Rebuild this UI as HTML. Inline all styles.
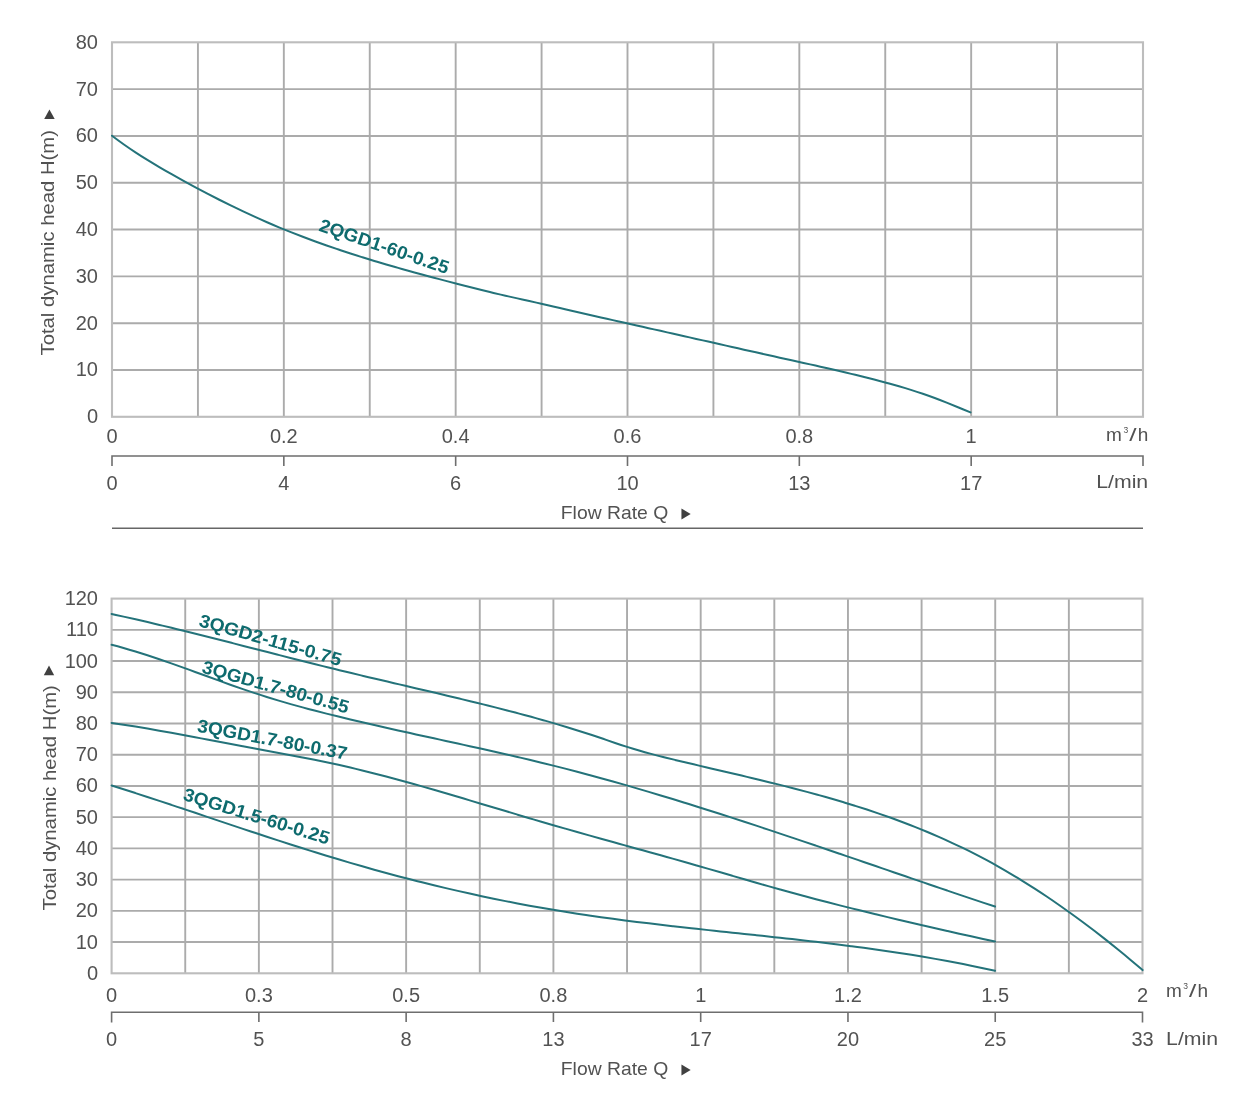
<!DOCTYPE html><html><head><meta charset="utf-8"><title>Pump performance curves</title>
<style>html,body{margin:0;padding:0;background:#fff;width:1235px;height:1111px;overflow:hidden}svg{display:block}text{font-family:'Liberation Sans', Arial, sans-serif}</style></head><body>
<svg width="1235" height="1111" viewBox="0 0 1235 1111">
<rect width="1235" height="1111" fill="#fff"/>
<path d="M197.92 42.30V416.80M283.83 42.30V416.80M369.75 42.30V416.80M455.67 42.30V416.80M541.58 42.30V416.80M627.50 42.30V416.80M713.42 42.30V416.80M799.33 42.30V416.80M885.25 42.30V416.80M971.17 42.30V416.80M1057.08 42.30V416.80M112.00 89.11H1143.00M112.00 135.93H1143.00M112.00 182.74H1143.00M112.00 229.55H1143.00M112.00 276.36H1143.00M112.00 323.18H1143.00M112.00 369.99H1143.00" stroke="#ababab" stroke-width="1.9" fill="none"/>
<rect x="112.00" y="42.30" width="1031.00" height="374.50" stroke="#bdbdbd" stroke-width="2.1" fill="none"/>
<text x="98.00" y="48.75" font-size="20" text-anchor="end" fill="#525252">80</text>
<text x="98.00" y="95.56" font-size="20" text-anchor="end" fill="#525252">70</text>
<text x="98.00" y="142.38" font-size="20" text-anchor="end" fill="#525252">60</text>
<text x="98.00" y="189.19" font-size="20" text-anchor="end" fill="#525252">50</text>
<text x="98.00" y="236.00" font-size="20" text-anchor="end" fill="#525252">40</text>
<text x="98.00" y="282.81" font-size="20" text-anchor="end" fill="#525252">30</text>
<text x="98.00" y="329.62" font-size="20" text-anchor="end" fill="#525252">20</text>
<text x="98.00" y="376.44" font-size="20" text-anchor="end" fill="#525252">10</text>
<text x="98.00" y="423.25" font-size="20" text-anchor="end" fill="#525252">0</text>
<text x="112.00" y="442.80" font-size="20" text-anchor="middle" fill="#525252">0</text>
<text x="283.83" y="442.80" font-size="20" text-anchor="middle" fill="#525252">0.2</text>
<text x="455.67" y="442.80" font-size="20" text-anchor="middle" fill="#525252">0.4</text>
<text x="627.50" y="442.80" font-size="20" text-anchor="middle" fill="#525252">0.6</text>
<text x="799.33" y="442.80" font-size="20" text-anchor="middle" fill="#525252">0.8</text>
<text x="971.17" y="442.80" font-size="20" text-anchor="middle" fill="#525252">1</text>
<text x="1106.10" y="441.00" font-size="19" fill="#525252">m</text>
<text x="1123.50" y="432.70" font-size="8.5" fill="#525252">3</text>
<text x="1129.20" y="441.00" font-size="19" fill="#525252" textLength="7.3" lengthAdjust="spacingAndGlyphs">/</text>
<text x="1137.70" y="441.00" font-size="19" fill="#525252">h</text>
<path d="M112.00 466V456H1143.00V466M283.83 456V466M455.67 456V466M627.50 456V466M799.33 456V466M971.17 456V466" stroke="#6e6e6e" stroke-width="1.6" fill="none"/>
<text x="112.00" y="489.70" font-size="20" text-anchor="middle" fill="#525252">0</text>
<text x="283.83" y="489.70" font-size="20" text-anchor="middle" fill="#525252">4</text>
<text x="455.67" y="489.70" font-size="20" text-anchor="middle" fill="#525252">6</text>
<text x="627.50" y="489.70" font-size="20" text-anchor="middle" fill="#525252">10</text>
<text x="799.33" y="489.70" font-size="20" text-anchor="middle" fill="#525252">13</text>
<text x="971.17" y="489.70" font-size="20" text-anchor="middle" fill="#525252">17</text>
<text x="1096.20" y="487.70" font-size="19" fill="#525252" textLength="52.0" lengthAdjust="spacingAndGlyphs">L/min</text>
<text x="560.8" y="519.20" font-size="19" fill="#525252" textLength="107.4" lengthAdjust="spacingAndGlyphs">Flow Rate Q</text>
<polygon points="681.45,508.50 681.45,519.60 690.70,514.10" fill="#404040"/>
<path d="M112 528.2H1143" stroke="#666" stroke-width="1.5"/>
<text transform="translate(54.40 355.50) rotate(-90)" font-size="19" fill="#525252" textLength="225.5" lengthAdjust="spacingAndGlyphs">Total dynamic head H(m)</text>
<polygon points="49.45,109.60 44.20,118.90 54.70,118.90" fill="#404040"/>
<path d="M112.00,135.70 C115.97,138.73 119.95,141.64 123.92,144.45 C127.90,147.25 131.87,149.96 135.85,152.57 C139.82,155.19 143.80,157.72 147.77,160.18 C151.75,162.64 155.72,165.02 159.69,167.36 C163.67,169.69 167.64,171.97 171.62,174.21 C175.59,176.45 179.57,178.65 183.54,180.83 C187.52,183.01 191.49,185.17 195.47,187.30 C199.44,189.43 203.41,191.54 207.39,193.61 C211.36,195.69 215.34,197.73 219.31,199.74 C223.29,201.76 227.26,203.73 231.24,205.68 C235.21,207.62 239.19,209.53 243.16,211.41 C247.13,213.28 251.11,215.12 255.08,216.92 C259.06,218.73 263.03,220.49 267.01,222.22 C270.98,223.95 274.96,225.65 278.93,227.30 C282.91,228.96 286.88,230.57 290.85,232.15 C294.83,233.73 298.80,235.27 302.78,236.78 C306.75,238.29 310.73,239.76 314.70,241.21 C318.68,242.65 322.65,244.07 326.62,245.46 C330.60,246.84 334.57,248.20 338.55,249.54 C342.52,250.87 346.50,252.18 350.47,253.47 C354.45,254.75 358.42,256.02 362.40,257.26 C366.37,258.50 370.34,259.72 374.32,260.92 C378.29,262.12 382.27,263.30 386.24,264.47 C390.22,265.63 394.19,266.78 398.17,267.91 C402.14,269.04 406.12,270.16 410.09,271.26 C414.06,272.36 418.04,273.45 422.01,274.53 C425.99,275.61 429.96,276.67 433.94,277.73 C437.91,278.79 441.89,279.84 445.86,280.88 C449.84,281.92 453.81,282.95 457.78,283.98 C461.76,285.00 465.73,286.02 469.71,287.03 C473.68,288.04 477.66,289.04 481.63,290.02 C485.61,291.01 489.58,291.97 493.56,292.92 C497.53,293.87 501.50,294.80 505.48,295.70 C509.45,296.61 513.43,297.49 517.40,298.37 C521.38,299.25 525.35,300.13 529.33,301.03 C533.30,301.92 537.28,302.83 541.25,303.74 C545.22,304.65 549.20,305.57 553.17,306.49 C557.15,307.41 561.12,308.33 565.10,309.24 C569.07,310.16 573.05,311.08 577.02,311.99 C581.00,312.90 584.97,313.81 588.94,314.71 C592.92,315.62 596.89,316.52 600.87,317.42 C604.84,318.32 608.82,319.22 612.79,320.12 C616.77,321.02 620.74,321.91 624.72,322.81 C628.69,323.70 632.66,324.60 636.64,325.49 C640.61,326.38 644.59,327.28 648.56,328.17 C652.54,329.06 656.51,329.95 660.49,330.85 C664.46,331.74 668.44,332.63 672.41,333.53 C676.38,334.42 680.36,335.32 684.33,336.22 C688.31,337.11 692.28,338.01 696.26,338.91 C700.23,339.80 704.21,340.70 708.18,341.60 C712.16,342.49 716.13,343.39 720.10,344.29 C724.08,345.18 728.05,346.08 732.03,346.97 C736.00,347.87 739.98,348.76 743.95,349.66 C747.93,350.55 751.90,351.44 755.88,352.33 C759.85,353.22 763.82,354.11 767.80,355.00 C771.77,355.88 775.75,356.77 779.72,357.65 C783.70,358.53 787.67,359.41 791.65,360.29 C795.62,361.17 799.59,362.05 803.57,362.93 C807.54,363.81 811.52,364.70 815.49,365.59 C819.47,366.48 823.44,367.37 827.42,368.28 C831.39,369.19 835.37,370.10 839.34,371.03 C843.31,371.96 847.29,372.90 851.26,373.85 C855.24,374.81 859.21,375.78 863.19,376.77 C867.16,377.76 871.14,378.76 875.11,379.79 C879.09,380.82 883.06,381.87 887.03,382.95 C891.01,384.03 894.98,385.13 898.96,386.27 C902.93,387.42 906.91,388.60 910.88,389.84 C914.86,391.08 918.83,392.37 922.81,393.73 C926.78,395.09 930.75,396.52 934.73,398.02 C938.70,399.52 942.68,401.08 946.65,402.67 C950.63,404.26 954.60,405.89 958.58,407.52 C962.55,409.16 966.53,410.80 970.50,412.42" stroke="#24737a" stroke-width="2.0" fill="none" stroke-linecap="round"/>
<text transform="translate(318.05 230.44) rotate(18.78)" font-size="18.3" font-weight="bold" fill="#0e6b6e" textLength="135.6" lengthAdjust="spacingAndGlyphs">2QGD1-60-0.25</text>
<path d="M185.24 598.60V973.30M258.87 598.60V973.30M332.51 598.60V973.30M406.14 598.60V973.30M479.78 598.60V973.30M553.41 598.60V973.30M627.05 598.60V973.30M700.69 598.60V973.30M774.32 598.60V973.30M847.96 598.60V973.30M921.59 598.60V973.30M995.23 598.60V973.30M1068.86 598.60V973.30M111.60 629.83H1142.50M111.60 661.05H1142.50M111.60 692.27H1142.50M111.60 723.50H1142.50M111.60 754.73H1142.50M111.60 785.95H1142.50M111.60 817.17H1142.50M111.60 848.40H1142.50M111.60 879.62H1142.50M111.60 910.85H1142.50M111.60 942.07H1142.50" stroke="#ababab" stroke-width="1.9" fill="none"/>
<rect x="111.60" y="598.60" width="1030.90" height="374.70" stroke="#bdbdbd" stroke-width="2.1" fill="none"/>
<text x="98.00" y="605.05" font-size="20" text-anchor="end" fill="#525252">120</text>
<text x="98.00" y="636.28" font-size="20" text-anchor="end" fill="#525252">110</text>
<text x="98.00" y="667.50" font-size="20" text-anchor="end" fill="#525252">100</text>
<text x="98.00" y="698.73" font-size="20" text-anchor="end" fill="#525252">90</text>
<text x="98.00" y="729.95" font-size="20" text-anchor="end" fill="#525252">80</text>
<text x="98.00" y="761.18" font-size="20" text-anchor="end" fill="#525252">70</text>
<text x="98.00" y="792.40" font-size="20" text-anchor="end" fill="#525252">60</text>
<text x="98.00" y="823.62" font-size="20" text-anchor="end" fill="#525252">50</text>
<text x="98.00" y="854.85" font-size="20" text-anchor="end" fill="#525252">40</text>
<text x="98.00" y="886.08" font-size="20" text-anchor="end" fill="#525252">30</text>
<text x="98.00" y="917.30" font-size="20" text-anchor="end" fill="#525252">20</text>
<text x="98.00" y="948.52" font-size="20" text-anchor="end" fill="#525252">10</text>
<text x="98.00" y="979.75" font-size="20" text-anchor="end" fill="#525252">0</text>
<text x="111.60" y="1002.20" font-size="20" text-anchor="middle" fill="#525252">0</text>
<text x="258.87" y="1002.20" font-size="20" text-anchor="middle" fill="#525252">0.3</text>
<text x="406.14" y="1002.20" font-size="20" text-anchor="middle" fill="#525252">0.5</text>
<text x="553.41" y="1002.20" font-size="20" text-anchor="middle" fill="#525252">0.8</text>
<text x="700.69" y="1002.20" font-size="20" text-anchor="middle" fill="#525252">1</text>
<text x="847.96" y="1002.20" font-size="20" text-anchor="middle" fill="#525252">1.2</text>
<text x="995.23" y="1002.20" font-size="20" text-anchor="middle" fill="#525252">1.5</text>
<text x="1142.50" y="1002.20" font-size="20" text-anchor="middle" fill="#525252">2</text>
<text x="1165.90" y="997.30" font-size="19" fill="#525252">m</text>
<text x="1183.30" y="989.00" font-size="8.5" fill="#525252">3</text>
<text x="1189.00" y="997.30" font-size="19" fill="#525252" textLength="7.3" lengthAdjust="spacingAndGlyphs">/</text>
<text x="1197.50" y="997.30" font-size="19" fill="#525252">h</text>
<path d="M111.60 1022.5V1012.2H1142.50V1022.5M258.87 1012.2V1022M406.14 1012.2V1022M553.41 1012.2V1022M700.69 1012.2V1022M847.96 1012.2V1022M995.23 1012.2V1022" stroke="#6e6e6e" stroke-width="1.6" fill="none"/>
<text x="111.60" y="1046.10" font-size="20" text-anchor="middle" fill="#525252">0</text>
<text x="258.87" y="1046.10" font-size="20" text-anchor="middle" fill="#525252">5</text>
<text x="406.14" y="1046.10" font-size="20" text-anchor="middle" fill="#525252">8</text>
<text x="553.41" y="1046.10" font-size="20" text-anchor="middle" fill="#525252">13</text>
<text x="700.69" y="1046.10" font-size="20" text-anchor="middle" fill="#525252">17</text>
<text x="847.96" y="1046.10" font-size="20" text-anchor="middle" fill="#525252">20</text>
<text x="995.23" y="1046.10" font-size="20" text-anchor="middle" fill="#525252">25</text>
<text x="1142.50" y="1046.10" font-size="20" text-anchor="middle" fill="#525252">33</text>
<text x="1166.10" y="1044.60" font-size="19" fill="#525252" textLength="52.0" lengthAdjust="spacingAndGlyphs">L/min</text>
<text x="560.8" y="1075.30" font-size="19" fill="#525252" textLength="107.4" lengthAdjust="spacingAndGlyphs">Flow Rate Q</text>
<polygon points="681.45,1064.50 681.45,1075.60 690.70,1070.10" fill="#404040"/>
<text transform="translate(55.80 910.50) rotate(-90)" font-size="19" fill="#525252" textLength="225.3" lengthAdjust="spacingAndGlyphs">Total dynamic head H(m)</text>
<polygon points="49.00,665.60 43.80,675.30 54.20,675.30" fill="#404040"/>
<path d="M111.60,614.00 C115.60,614.86 119.59,615.74 123.59,616.62 C127.58,617.51 131.58,618.41 135.58,619.32 C139.57,620.24 143.57,621.16 147.57,622.09 C151.56,623.03 155.56,623.97 159.55,624.93 C163.55,625.88 167.55,626.84 171.54,627.81 C175.54,628.78 179.53,629.76 183.53,630.75 C187.53,631.73 191.52,632.73 195.52,633.73 C199.51,634.73 203.51,635.73 207.51,636.74 C211.50,637.75 215.50,638.76 219.50,639.78 C223.49,640.80 227.49,641.82 231.48,642.84 C235.48,643.86 239.48,644.89 243.47,645.91 C247.47,646.94 251.46,647.97 255.46,648.99 C259.46,650.02 263.45,651.05 267.45,652.07 C271.44,653.10 275.44,654.13 279.44,655.15 C283.43,656.17 287.43,657.19 291.43,658.21 C295.42,659.22 299.42,660.24 303.41,661.25 C307.41,662.26 311.41,663.26 315.40,664.26 C319.40,665.26 323.39,666.25 327.39,667.23 C331.39,668.22 335.38,669.20 339.38,670.17 C343.38,671.14 347.37,672.10 351.37,673.06 C355.36,674.02 359.36,674.98 363.36,675.93 C367.35,676.88 371.35,677.82 375.34,678.76 C379.34,679.70 383.34,680.64 387.33,681.58 C391.33,682.52 395.32,683.46 399.32,684.39 C403.32,685.33 407.31,686.26 411.31,687.20 C415.31,688.13 419.30,689.07 423.30,690.01 C427.29,690.95 431.29,691.89 435.29,692.83 C439.28,693.78 443.28,694.72 447.27,695.68 C451.27,696.63 455.27,697.58 459.26,698.55 C463.26,699.51 467.26,700.48 471.25,701.45 C475.25,702.43 479.24,703.41 483.24,704.40 C487.24,705.39 491.23,706.39 495.23,707.40 C499.22,708.41 503.22,709.44 507.22,710.47 C511.21,711.50 515.21,712.55 519.20,713.61 C523.20,714.67 527.20,715.75 531.19,716.84 C535.19,717.94 539.19,719.05 543.18,720.18 C547.18,721.31 551.17,722.46 555.17,723.63 C559.17,724.80 563.16,725.99 567.16,727.20 C571.15,728.42 575.15,729.66 579.15,730.92 C583.14,732.18 587.14,733.47 591.13,734.79 C595.13,736.10 599.13,737.45 603.12,738.82 C607.12,740.19 611.12,741.58 615.11,742.94 C619.11,744.31 623.10,745.65 627.10,746.92 C631.10,748.19 635.09,749.40 639.09,750.55 C643.08,751.71 647.08,752.81 651.08,753.87 C655.07,754.94 659.07,755.96 663.07,756.96 C667.06,757.96 671.06,758.94 675.05,759.90 C679.05,760.86 683.05,761.82 687.04,762.77 C691.04,763.72 695.03,764.66 699.03,765.60 C703.03,766.54 707.02,767.48 711.02,768.41 C715.01,769.35 719.01,770.28 723.01,771.22 C727.00,772.15 731.00,773.09 735.00,774.03 C738.99,774.97 742.99,775.92 746.98,776.87 C750.98,777.81 754.98,778.77 758.97,779.74 C762.97,780.70 766.96,781.67 770.96,782.66 C774.96,783.64 778.95,784.63 782.95,785.64 C786.94,786.65 790.94,787.67 794.94,788.71 C798.93,789.74 802.93,790.80 806.93,791.87 C810.92,792.94 814.92,794.02 818.91,795.13 C822.91,796.24 826.91,797.37 830.90,798.52 C834.90,799.67 838.89,800.85 842.89,802.05 C846.89,803.25 850.88,804.47 854.88,805.72 C858.88,806.97 862.87,808.25 866.87,809.56 C870.86,810.87 874.86,812.21 878.86,813.58 C882.85,814.96 886.85,816.36 890.84,817.80 C894.84,819.24 898.84,820.71 902.83,822.22 C906.83,823.73 910.82,825.28 914.82,826.87 C918.82,828.46 922.81,830.08 926.81,831.75 C930.81,833.42 934.80,835.13 938.80,836.89 C942.79,838.64 946.79,840.44 950.79,842.29 C954.78,844.13 958.78,846.03 962.77,847.97 C966.77,849.91 970.77,851.90 974.76,853.94 C978.76,855.99 982.76,858.08 986.75,860.23 C990.75,862.37 994.74,864.58 998.74,866.83 C1002.74,869.09 1006.73,871.40 1010.73,873.77 C1014.72,876.14 1018.72,878.56 1022.72,881.03 C1026.71,883.51 1030.71,886.03 1034.70,888.61 C1038.70,891.19 1042.70,893.82 1046.69,896.50 C1050.69,899.19 1054.69,901.92 1058.68,904.70 C1062.68,907.49 1066.67,910.32 1070.67,913.20 C1074.67,916.08 1078.66,919.01 1082.66,921.99 C1086.65,924.96 1090.65,927.99 1094.65,931.06 C1098.64,934.13 1102.64,937.25 1106.63,940.41 C1110.63,943.58 1114.63,946.79 1118.62,950.04 C1122.62,953.29 1126.62,956.59 1130.61,959.93 C1134.61,963.27 1138.60,966.66 1142.60,970.08" stroke="#24737a" stroke-width="2.0" fill="none" stroke-linecap="round"/>
<path d="M111.60,644.79 C115.58,645.80 119.56,646.86 123.54,647.98 C127.52,649.09 131.50,650.26 135.48,651.47 C139.45,652.68 143.43,653.93 147.41,655.22 C151.39,656.51 155.37,657.84 159.35,659.19 C163.33,660.55 167.31,661.93 171.29,663.33 C175.27,664.74 179.25,666.16 183.23,667.60 C187.21,669.03 191.19,670.48 195.16,671.94 C199.14,673.39 203.12,674.85 207.10,676.31 C211.08,677.77 215.06,679.22 219.04,680.66 C223.02,682.11 227.00,683.54 230.98,684.96 C234.96,686.37 238.94,687.77 242.92,689.14 C246.90,690.52 250.87,691.86 254.85,693.17 C258.83,694.49 262.81,695.76 266.79,697.01 C270.77,698.25 274.75,699.46 278.73,700.64 C282.71,701.82 286.69,702.97 290.67,704.09 C294.65,705.22 298.63,706.31 302.61,707.39 C306.58,708.46 310.56,709.52 314.54,710.55 C318.52,711.58 322.50,712.60 326.48,713.60 C330.46,714.60 334.44,715.59 338.42,716.56 C342.40,717.54 346.38,718.50 350.36,719.45 C354.34,720.40 358.32,721.34 362.29,722.27 C366.27,723.20 370.25,724.13 374.23,725.04 C378.21,725.95 382.19,726.86 386.17,727.76 C390.15,728.66 394.13,729.55 398.11,730.44 C402.09,731.33 406.07,732.21 410.05,733.09 C414.03,733.97 418.00,734.84 421.98,735.72 C425.96,736.59 429.94,737.46 433.92,738.33 C437.90,739.20 441.88,740.07 445.86,740.94 C449.84,741.81 453.82,742.68 457.80,743.55 C461.78,744.43 465.76,745.30 469.74,746.18 C473.71,747.06 477.69,747.94 481.67,748.83 C485.65,749.71 489.63,750.60 493.61,751.50 C497.59,752.40 501.57,753.30 505.55,754.21 C509.53,755.13 513.51,756.05 517.49,756.97 C521.47,757.90 525.45,758.84 529.42,759.79 C533.40,760.74 537.38,761.70 541.36,762.67 C545.34,763.64 549.32,764.62 553.30,765.62 C557.28,766.61 561.26,767.62 565.24,768.65 C569.22,769.67 573.20,770.70 577.18,771.75 C581.15,772.80 585.13,773.86 589.11,774.93 C593.09,776.01 597.07,777.09 601.05,778.19 C605.03,779.28 609.01,780.39 612.99,781.51 C616.97,782.63 620.95,783.76 624.93,784.90 C628.91,786.04 632.89,787.19 636.86,788.35 C640.84,789.51 644.82,790.68 648.80,791.86 C652.78,793.04 656.76,794.23 660.74,795.43 C664.72,796.62 668.70,797.83 672.68,799.05 C676.66,800.26 680.64,801.49 684.62,802.72 C688.60,803.95 692.57,805.20 696.55,806.44 C700.53,807.69 704.51,808.95 708.49,810.21 C712.47,811.47 716.45,812.74 720.43,814.02 C724.41,815.30 728.39,816.58 732.37,817.87 C736.35,819.16 740.33,820.45 744.31,821.75 C748.28,823.06 752.26,824.36 756.24,825.67 C760.22,826.99 764.20,828.30 768.18,829.62 C772.16,830.95 776.14,832.27 780.12,833.60 C784.10,834.93 788.08,836.27 792.06,837.60 C796.04,838.94 800.02,840.28 803.99,841.63 C807.97,842.97 811.95,844.32 815.93,845.67 C819.91,847.02 823.89,848.37 827.87,849.73 C831.85,851.08 835.83,852.44 839.81,853.80 C843.79,855.16 847.77,856.52 851.75,857.88 C855.73,859.24 859.70,860.61 863.68,861.97 C867.66,863.33 871.64,864.70 875.62,866.06 C879.60,867.43 883.58,868.79 887.56,870.16 C891.54,871.52 895.52,872.89 899.50,874.25 C903.48,875.61 907.46,876.98 911.44,878.34 C915.41,879.70 919.39,881.06 923.37,882.42 C927.35,883.78 931.33,885.13 935.31,886.49 C939.29,887.84 943.27,889.19 947.25,890.54 C951.23,891.89 955.21,893.24 959.19,894.58 C963.17,895.93 967.15,897.27 971.12,898.60 C975.10,899.94 979.08,901.27 983.06,902.60 C987.04,903.93 991.02,905.25 995.00,906.57" stroke="#24737a" stroke-width="2.0" fill="none" stroke-linecap="round"/>
<path d="M111.60,722.90 C115.58,723.48 119.56,724.08 123.54,724.70 C127.52,725.33 131.50,725.96 135.48,726.61 C139.45,727.27 143.43,727.93 147.41,728.61 C151.39,729.29 155.37,729.99 159.35,730.69 C163.33,731.39 167.31,732.11 171.29,732.83 C175.27,733.55 179.25,734.28 183.23,735.02 C187.21,735.76 191.19,736.50 195.16,737.25 C199.14,738.00 203.12,738.76 207.10,739.51 C211.08,740.27 215.06,741.03 219.04,741.79 C223.02,742.55 227.00,743.31 230.98,744.07 C234.96,744.82 238.94,745.58 242.92,746.34 C246.90,747.09 250.87,747.84 254.85,748.58 C258.83,749.33 262.81,750.06 266.79,750.80 C270.77,751.53 274.75,752.26 278.73,753.00 C282.71,753.73 286.69,754.47 290.67,755.21 C294.65,755.95 298.63,756.71 302.61,757.47 C306.58,758.23 310.56,759.01 314.54,759.80 C318.52,760.60 322.50,761.41 326.48,762.25 C330.46,763.08 334.44,763.94 338.42,764.83 C342.40,765.71 346.38,766.62 350.36,767.55 C354.34,768.49 358.32,769.44 362.29,770.42 C366.27,771.40 370.25,772.39 374.23,773.41 C378.21,774.42 382.19,775.46 386.17,776.51 C390.15,777.56 394.13,778.63 398.11,779.71 C402.09,780.79 406.07,781.89 410.05,783.00 C414.03,784.11 418.00,785.24 421.98,786.37 C425.96,787.50 429.94,788.65 433.92,789.80 C437.90,790.95 441.88,792.12 445.86,793.29 C449.84,794.45 453.82,795.63 457.80,796.81 C461.78,797.99 465.76,799.18 469.74,800.36 C473.71,801.55 477.69,802.74 481.67,803.94 C485.65,805.13 489.63,806.32 493.61,807.51 C497.59,808.70 501.57,809.89 505.55,811.08 C509.53,812.27 513.51,813.46 517.49,814.65 C521.47,815.83 525.45,817.01 529.42,818.19 C533.40,819.36 537.38,820.54 541.36,821.70 C545.34,822.87 549.32,824.03 553.30,825.18 C557.28,826.33 561.26,827.48 565.24,828.61 C569.22,829.75 573.20,830.89 577.18,832.01 C581.15,833.14 585.13,834.26 589.11,835.38 C593.09,836.50 597.07,837.61 601.05,838.72 C605.03,839.83 609.01,840.94 612.99,842.04 C616.97,843.15 620.95,844.25 624.93,845.36 C628.91,846.46 632.89,847.57 636.86,848.67 C640.84,849.77 644.82,850.88 648.80,851.98 C652.78,853.09 656.76,854.20 660.74,855.31 C664.72,856.42 668.70,857.54 672.68,858.65 C676.66,859.77 680.64,860.89 684.62,862.02 C688.60,863.15 692.57,864.28 696.55,865.42 C700.53,866.56 704.51,867.70 708.49,868.86 C712.47,870.01 716.45,871.16 720.43,872.32 C724.41,873.48 728.39,874.64 732.37,875.80 C736.35,876.96 740.33,878.12 744.31,879.27 C748.28,880.43 752.26,881.58 756.24,882.72 C760.22,883.87 764.20,885.00 768.18,886.13 C772.16,887.26 776.14,888.38 780.12,889.49 C784.10,890.59 788.08,891.69 792.06,892.78 C796.04,893.86 800.02,894.94 803.99,896.01 C807.97,897.07 811.95,898.13 815.93,899.17 C819.91,900.22 823.89,901.26 827.87,902.29 C831.85,903.32 835.83,904.34 839.81,905.35 C843.79,906.36 847.77,907.36 851.75,908.36 C855.73,909.35 859.70,910.34 863.68,911.32 C867.66,912.30 871.64,913.27 875.62,914.24 C879.60,915.20 883.58,916.16 887.56,917.11 C891.54,918.07 895.52,919.01 899.50,919.95 C903.48,920.89 907.46,921.83 911.44,922.75 C915.41,923.68 919.39,924.60 923.37,925.52 C927.35,926.44 931.33,927.35 935.31,928.26 C939.29,929.17 943.27,930.07 947.25,930.97 C951.23,931.87 955.21,932.77 959.19,933.66 C963.17,934.55 967.15,935.44 971.12,936.32 C975.10,937.21 979.08,938.09 983.06,938.97 C987.04,939.85 991.02,940.72 995.00,941.60" stroke="#24737a" stroke-width="2.0" fill="none" stroke-linecap="round"/>
<path d="M111.60,785.47 C115.58,786.72 119.56,787.98 123.54,789.25 C127.52,790.52 131.50,791.80 135.48,793.08 C139.45,794.37 143.43,795.67 147.41,796.97 C151.39,798.27 155.37,799.58 159.35,800.89 C163.33,802.20 167.31,803.52 171.29,804.84 C175.27,806.17 179.25,807.49 183.23,808.82 C187.21,810.15 191.19,811.49 195.16,812.82 C199.14,814.15 203.12,815.49 207.10,816.83 C211.08,818.16 215.06,819.50 219.04,820.83 C223.02,822.17 227.00,823.51 230.98,824.84 C234.96,826.17 238.94,827.50 242.92,828.83 C246.90,830.15 250.87,831.48 254.85,832.79 C258.83,834.11 262.81,835.43 266.79,836.73 C270.77,838.04 274.75,839.34 278.73,840.64 C282.71,841.93 286.69,843.22 290.67,844.49 C294.65,845.77 298.63,847.04 302.61,848.30 C306.58,849.56 310.56,850.81 314.54,852.05 C318.52,853.29 322.50,854.51 326.48,855.73 C330.46,856.94 334.44,858.15 338.42,859.33 C342.40,860.52 346.38,861.70 350.36,862.86 C354.34,864.02 358.32,865.17 362.29,866.31 C366.27,867.44 370.25,868.56 374.23,869.67 C378.21,870.78 382.19,871.88 386.17,872.96 C390.15,874.04 394.13,875.10 398.11,876.16 C402.09,877.21 406.07,878.25 410.05,879.28 C414.03,880.30 418.00,881.31 421.98,882.31 C425.96,883.31 429.94,884.29 433.92,885.26 C437.90,886.23 441.88,887.18 445.86,888.12 C449.84,889.06 453.82,889.98 457.80,890.89 C461.78,891.81 465.76,892.70 469.74,893.58 C473.71,894.46 477.69,895.33 481.67,896.18 C485.65,897.03 489.63,897.87 493.61,898.69 C497.59,899.51 501.57,900.32 505.55,901.11 C509.53,901.90 513.51,902.68 517.49,903.44 C521.47,904.20 525.45,904.94 529.42,905.67 C533.40,906.40 537.38,907.12 541.36,907.81 C545.34,908.51 549.32,909.20 553.30,909.86 C557.28,910.53 561.26,911.18 565.24,911.82 C569.22,912.46 573.20,913.08 577.18,913.68 C581.15,914.29 585.13,914.89 589.11,915.47 C593.09,916.05 597.07,916.62 601.05,917.18 C605.03,917.73 609.01,918.28 612.99,918.81 C616.97,919.35 620.95,919.87 624.93,920.39 C628.91,920.90 632.89,921.41 636.86,921.90 C640.84,922.40 644.82,922.88 648.80,923.36 C652.78,923.84 656.76,924.32 660.74,924.78 C664.72,925.25 668.70,925.71 672.68,926.16 C676.66,926.61 680.64,927.06 684.62,927.50 C688.60,927.95 692.57,928.39 696.55,928.82 C700.53,929.26 704.51,929.69 708.49,930.12 C712.47,930.55 716.45,930.97 720.43,931.40 C724.41,931.82 728.39,932.25 732.37,932.67 C736.35,933.09 740.33,933.52 744.31,933.94 C748.28,934.36 752.26,934.79 756.24,935.21 C760.22,935.64 764.20,936.07 768.18,936.50 C772.16,936.93 776.14,937.36 780.12,937.79 C784.10,938.23 788.08,938.67 792.06,939.11 C796.04,939.56 800.02,940.01 803.99,940.46 C807.97,940.92 811.95,941.38 815.93,941.84 C819.91,942.31 823.89,942.78 827.87,943.26 C831.85,943.75 835.83,944.23 839.81,944.73 C843.79,945.23 847.77,945.74 851.75,946.25 C855.73,946.77 859.70,947.30 863.68,947.83 C867.66,948.37 871.64,948.92 875.62,949.48 C879.60,950.04 883.58,950.61 887.56,951.19 C891.54,951.78 895.52,952.37 899.50,952.98 C903.48,953.59 907.46,954.22 911.44,954.86 C915.41,955.50 919.39,956.15 923.37,956.82 C927.35,957.49 931.33,958.18 935.31,958.88 C939.29,959.59 943.27,960.31 947.25,961.04 C951.23,961.78 955.21,962.54 959.19,963.31 C963.17,964.09 967.15,964.88 971.12,965.70 C975.10,966.51 979.08,967.34 983.06,968.20 C987.04,969.05 991.02,969.93 995.00,970.83" stroke="#24737a" stroke-width="2.0" fill="none" stroke-linecap="round"/>
<text transform="translate(197.92 625.90) rotate(15.86)" font-size="18.3" font-weight="bold" fill="#0e6b6e" textLength="147.2" lengthAdjust="spacingAndGlyphs">3QGD2-115-0.75</text>
<text transform="translate(201.01 672.50) rotate(15.71)" font-size="18.3" font-weight="bold" fill="#0e6b6e" textLength="151.6" lengthAdjust="spacingAndGlyphs">3QGD1.7-80-0.55</text>
<text transform="translate(196.52 731.50) rotate(10.68)" font-size="18.3" font-weight="bold" fill="#0e6b6e" textLength="152.1" lengthAdjust="spacingAndGlyphs">3QGD1.7-80-0.37</text>
<text transform="translate(182.15 799.87) rotate(17.10)" font-size="18.3" font-weight="bold" fill="#0e6b6e" textLength="152.0" lengthAdjust="spacingAndGlyphs">3QGD1.5-60-0.25</text>
</svg></body></html>
